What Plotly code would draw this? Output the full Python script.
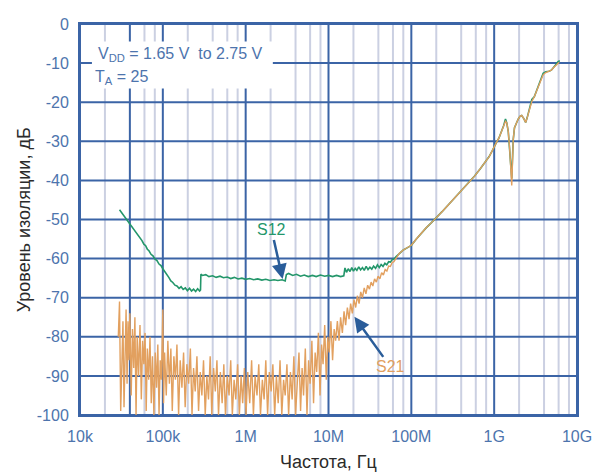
import plotly.graph_objects as go

# ---------------- data ----------------
x_tick_vals = [1e4, 1e5, 1e6, 1e7, 1e8, 1e9, 1e10]
x_tick_text = ["10k", "100k", "1M", "10M", "100M", "1G", "10G"]
x_minor_vals = [m * 10 ** e for e in range(4, 10) for m in (2, 4, 6, 8)]
y_tick_vals = [-100, -90, -80, -70, -60, -50, -40, -30, -20, -10, 0]
y_tick_text = ["-100", "-90", "-80", "-70", "-60", "-50", "-40", "-30", "-20", "-10", "0"]

# S21 (frequency in kHz, isolation in dB)
s21_f_khz = [
    29, 30, 31, 32, 33, 34, 35, 36, 37, 38, 39, 40, 41.5, 43, 44.5, 46, 47.5, 49, 51, 53,
    55, 57, 59, 61, 63, 65, 67.5, 70, 72.5, 75, 78, 81, 84, 87, 90, 93, 96, 99, 100, 102,
    105, 110, 115, 120, 125, 130, 136, 142, 148, 155, 162, 170, 178, 186, 195, 205, 215, 225, 235, 246,
    258, 270, 283, 296, 310, 325, 340, 356, 373, 390, 410, 430, 450, 470, 495, 520, 545, 570, 600, 630,
    660, 690, 725, 760, 800, 840, 880, 920, 965, 1010,
    1060, 1120, 1180, 1240, 1300, 1370, 1440, 1510, 1590, 1670, 1750, 1840, 1930, 2030, 2130, 2240,
    2350, 2470, 2600, 2730, 2870, 3000, 3150, 3300, 3470, 3640, 3820, 4000,
    4200, 4400, 4600, 4800, 5000, 5250, 5500, 5750, 6000, 6300, 6600, 6900, 7200, 7550, 7900, 8250,
    8600, 9000, 9400, 9800, 10200, 10700, 11200, 11700, 12200,
    12800, 13400, 14000, 14700, 15400, 16100, 16900, 17700, 18500, 19400, 20300, 21300, 22300, 23400,
    24500, 25700, 27000, 28300, 29700, 31200, 32700, 34300, 36000, 37800, 39700, 41700, 43800, 46000,
    48300, 50700, 53200, 55900, 58700, 61600, 64700, 68000, 71400,
    80000, 90000, 100000, 115000, 130000, 150000, 175000, 200000, 235000, 270000, 310000, 360000,
    420000, 500000, 580000, 680000, 780000, 870000, 950000, 1000000, 1070000, 1140000, 1220000,
    1300000, 1370000, 1420000, 1480000, 1540000, 1600000, 1630000, 1660000, 1700000, 1760000,
    1850000, 1950000, 2050000, 2150000, 2280000, 2400000, 2500000, 2650000, 2850000, 3050000,
    3300000, 3600000, 3900000, 4200000, 4600000, 4900000, 5200000, 5600000, 6100000,
]
s21_db = [
    -80, -71, -99, -82, -76, -98, -79, -73, -92, -76, -86, -74, -95, -78, -88, -75, -100, -80, -90, -77,
    -96, -81, -87, -79, -99, -83, -91, -80, -97, -85, -100, -84, -93, -82, -100, -86, -91, -74, -73, -97,
    -84, -95, -81, -92, -83, -99, -85, -91, -82, -100, -86, -93, -84, -98, -87, -92, -83, -100, -88, -94,
    -85, -99, -89, -95, -86, -100, -90, -96, -85, -100, -88, -94, -86, -100, -89, -97, -87, -100, -90, -95,
    -86, -100, -91, -96, -87, -100, -90, -97, -88, -100,
    -89, -97, -86, -100, -90, -95, -87, -100, -91, -96, -86, -100, -89, -94, -87, -100,
    -90, -97, -86, -100, -91, -95, -87, -100, -89, -96, -85, -100,
    -93, -84, -99, -88, -95, -83, -100, -86, -92, -81, -97, -84, -89, -79, -95, -82,
    -87, -77, -91, -80, -84, -76, -86, -78, -81,
    -76, -81, -75, -79, -73.5, -77, -72.5, -75.5, -71.5, -74, -70.5, -72.5, -69.5, -71.5,
    -68.5, -70, -67.5, -69, -66.8, -67.8, -66, -67, -65.2, -66, -64.5, -65.2, -63.6, -64.2,
    -62.8, -63.2, -61.9, -62, -61, -60.8, -60, -59.3, -58.7,
    -57.8, -57.2, -56.6, -55.0, -53.6, -52.2, -50.8, -49.6, -48.0, -46.6, -45.2, -43.8,
    -42.2, -40.6, -38.9, -37.0, -35.4, -33.9, -32.4, -31.3, -30.2, -29.2, -27.6,
    -26.0, -24.9, -25.3, -27.5, -32.0, -38.5, -41.3, -36.0, -29.5, -26.5,
    -25.2, -24.3, -23.6, -23.4, -24.2, -25.2, -24.0, -21.8, -19.8, -18.6,
    -16.8, -14.6, -13.0, -12.4, -12.1, -11.8, -11.2, -10.6, -9.8,
]

# S12 (frequency in kHz, isolation in dB)
s12_f_khz = [
    30, 32, 34, 36.5, 38, 40, 42, 44, 46, 48, 50, 53, 56, 59, 62, 65, 68, 72, 76, 80,
    85, 90, 95, 100, 106, 112, 118, 125, 132, 140, 148, 157, 166, 176, 187, 198, 210, 222, 235, 249,
    263, 278, 285, 288, 300, 330, 360, 400, 440, 490, 540, 600, 660, 730, 810, 900,
    1000, 1120, 1250, 1400, 1570, 1750, 1960, 2200, 2450, 2750, 3000, 3100, 3300, 3700, 4100, 4600,
    5100, 5700, 6400, 7100, 8000, 9000, 10000, 11200, 12500, 14000, 15300, 15800, 16500, 17300,
    18200, 19100, 20000, 21000, 22000, 23200, 24400, 25700, 27000, 28500, 30000, 31600, 33300,
    35000, 37000, 39000, 41000, 43200, 45500, 48000, 50500, 53200, 56000, 59000, 62000, 65500,
    69000, 73000,
    80000, 90000, 100000, 115000, 130000, 150000, 175000, 200000, 235000, 270000, 310000, 360000,
    420000, 500000, 580000, 680000, 780000, 870000, 950000, 1000000, 1070000, 1140000, 1220000,
    1300000, 1370000, 1420000, 1480000, 1540000, 1600000, 1630000, 1660000, 1700000, 1760000,
    1850000, 1950000, 2050000, 2150000, 2280000, 2400000, 2500000, 2650000, 2850000, 3050000,
    3300000, 3600000, 3900000, 4200000, 4600000, 4900000, 5200000, 5600000, 5900000, 6200000,
]
s12_db = [
    -47.5, -48.3, -49.2, -50.0, -50.6, -51.2, -51.7, -52.5, -52.9, -53.6, -54.0, -54.8, -55.4, -56.3,
    -56.7, -57.6, -58.0, -58.9, -59.3, -60.1,
    -60.5, -61.4, -61.8, -62.6, -63.3, -64.2, -64.8, -65.7, -66.1, -66.8, -67.0, -67.6, -67.2, -67.9,
    -67.5, -68.2, -67.6, -68.3, -67.8, -68.4,
    -67.7, -68.3, -68.0, -64.0, -64.3, -64.1, -64.6, -64.4, -64.8, -64.5, -64.9, -64.7, -65.1, -64.8,
    -65.2, -65.0,
    -65.3, -65.1, -65.4, -65.2, -65.5, -65.3, -65.6, -65.4, -65.6, -65.4, -65.7, -64.1, -63.8, -64.3,
    -64.0, -64.5,
    -64.2, -64.6, -64.3, -64.6, -64.2, -64.5, -64.3, -64.6, -64.3, -64.6, -64.4, -62.4, -63.5, -62.6,
    -63.3, -62.3, -63.2, -62.5, -63.0, -62.1, -62.9, -62.3, -63.0, -62.0, -62.8, -62.2, -62.7,
    -61.9, -62.5, -61.6, -62.3, -61.5, -62.0, -61.2, -61.6, -60.8, -60.9, -60.2, -60.1, -59.5,
    -59.0, -58.5,
    -57.8, -57.2, -56.6, -55.0, -53.6, -52.2, -50.8, -49.6, -48.0, -46.6, -45.2, -43.8,
    -42.2, -40.6, -38.9, -37.0, -35.4, -33.9, -32.4, -31.3, -30.2, -29.2, -27.6,
    -26.0, -24.3, -25.3, -27.5, -32.0, -37.5, -39.5, -35.0, -29.5, -26.5,
    -25.2, -24.3, -23.6, -23.4, -24.2, -25.2, -24.0, -21.8, -19.3, -18.6,
    -16.8, -14.6, -12.6, -12.2, -12.1, -11.8, -11.2, -10.3, -9.6, -9.4,
]

# ---------------- style ----------------
MAJOR = "#3b64a6"
MINOR = "#cbd0e2"
TICK = "#4d74ad"
GREEN = "#23966a"
ORANGE = "#e2a05f"
ARROW = "#2a5d9a"
FONT = "Liberation Sans, Arial, sans-serif"

fig = go.Figure()
fig.add_trace(go.Scatter(x=[f * 1e3 for f in s12_f_khz], y=s12_db, mode="lines",
                         line=dict(color=GREEN, width=1.6), name="S12"))
fig.add_trace(go.Scatter(x=[f * 1e3 for f in s21_f_khz], y=s21_db, mode="lines",
                         line=dict(color=ORANGE, width=1.4), name="S21"))

# page body has an 8px default margin -> figure sized/offset to compensate
fig.update_layout(
    width=594, height=465,
    margin=dict(l=72, r=25, t=8, b=58),
    paper_bgcolor="white", plot_bgcolor="white",
    showlegend=False,
    font=dict(family=FONT, size=16, color=TICK),
)
fig.update_xaxes(
    type="log", range=[4, 10],
    tickmode="array", tickvals=x_tick_vals, ticktext=x_tick_text,
    tickfont=dict(size=16, color=TICK), ticks="", ticklabelstandoff=6,
    showgrid=False,
    showline=True, linecolor=MAJOR, linewidth=2, mirror=True, zeroline=False,
)
fig.update_yaxes(
    range=[-100, 0],
    tickmode="array", tickvals=y_tick_vals, ticktext=y_tick_text,
    tickfont=dict(size=16, color=TICK), ticks="", ticklabelstandoff=6,
    showgrid=False,
    showline=True, linecolor=MAJOR, linewidth=2, mirror=True, zeroline=False,
)

# grid drawn as shapes (minor verticals, then major verticals, then horizontals)
for v in x_minor_vals:
    dark = (v == 4e4)  # the reference shows this one darker
    fig.add_shape(type="line", xref="x", yref="paper", x0=v, x1=v,
                  y0=0, y1=1, line=dict(color=MAJOR if dark else MINOR, width=2), layer="below")
for v in x_tick_vals:
    fig.add_shape(type="line", xref="x", yref="paper", x0=v, x1=v,
                  y0=0, y1=1, line=dict(color=MAJOR, width=2), layer="below")
for v in y_tick_vals:
    fig.add_shape(type="line", xref="paper", yref="y", x0=0, x1=1, y0=v, y1=v,
                  line=dict(color=MAJOR, width=2), layer="below")

# white box behind the conditions text
fig.add_shape(type="rect", xref="paper", yref="paper", x0=0.024, x1=0.388, y0=0.835, y1=0.955,
              fillcolor="white", line=dict(width=0), layer="below")

fig.add_annotation(xref="paper", yref="paper", x=0.032, y=0.922, xanchor="left", yanchor="middle",
                   text="V<sub>DD</sub> = 1.65 V\u00a0\u00a0to 2.75 V", showarrow=False,
                   font=dict(size=16, color=TICK, family=FONT))
fig.add_annotation(xref="paper", yref="paper", x=0.027, y=0.862, xanchor="left", yanchor="middle",
                   text="T<sub>A</sub> = 25", showarrow=False,
                   font=dict(size=16, color=TICK, family=FONT))

# curve labels with arrows
fig.add_annotation(x=6.446, y=-65.2, xref="x", yref="y", text="S12", showarrow=True,
                   ax=-11, ay=-49, font=dict(size=16, color=GREEN, family=FONT),
                   arrowcolor=ARROW, arrowwidth=2.5, arrowhead=2, arrowsize=1.2)
fig.add_annotation(x=7.313, y=-74.9, xref="x", yref="y", text="S21", showarrow=True,
                   ax=36, ay=50, font=dict(size=16, color=ORANGE, family=FONT),
                   arrowcolor=ARROW, arrowwidth=2.5, arrowhead=2, arrowsize=1.2)

# axis titles
fig.add_annotation(xref="paper", yref="paper", x=-0.113, y=0.5, text="Уровень изоляции, дБ",
                   textangle=-90, showarrow=False, xanchor="center", yanchor="middle",
                   font=dict(size=18, color="#2b2b2b", family=FONT))
fig.add_annotation(xref="paper", yref="paper", x=0.5, y=-0.12, text="Частота, Гц",
                   showarrow=False, xanchor="center", yanchor="middle",
                   font=dict(size=18, color="#2b2b2b", family=FONT))

fig.write_html("out.html")
